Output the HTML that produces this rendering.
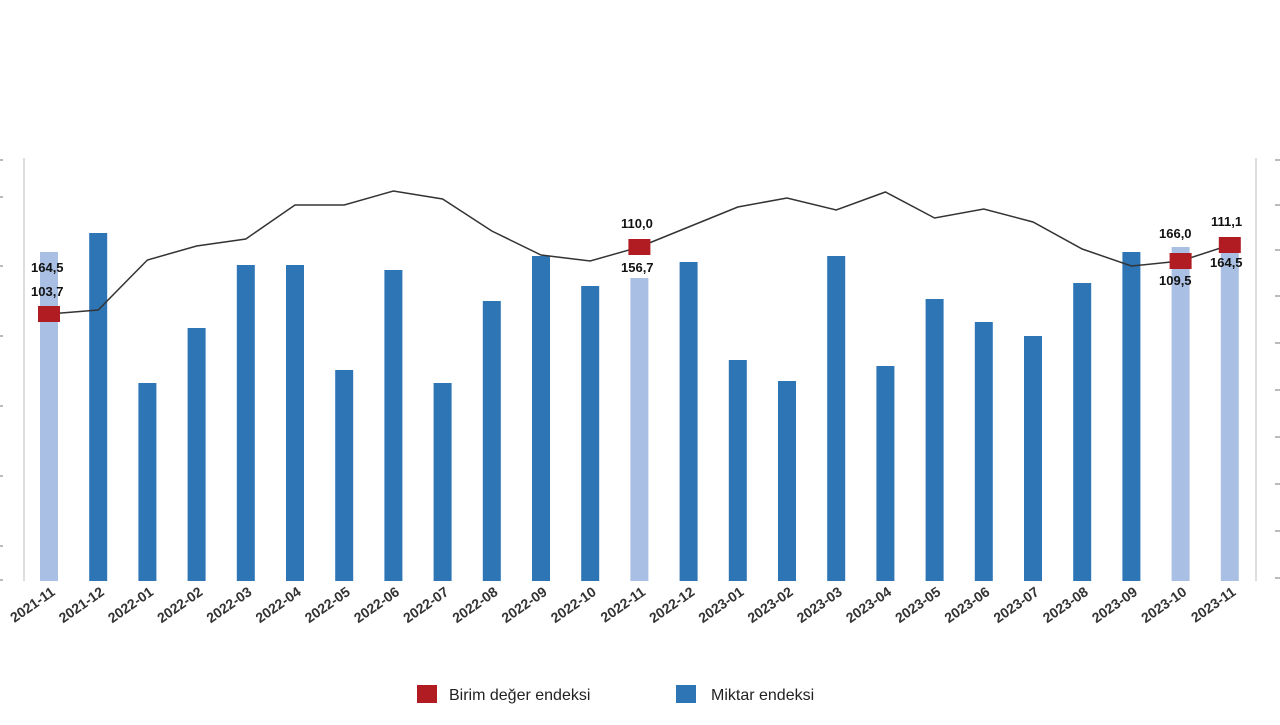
<!DOCTYPE html>
<html><head><meta charset="utf-8"><style>
body{margin:0;background:#fff;width:1280px;height:720px;overflow:hidden}
svg text{font-family:"Liberation Sans",sans-serif}
</style></head><body>
<svg width="1280" height="720" xmlns="http://www.w3.org/2000/svg">
<line x1="24" y1="158" x2="24" y2="581" stroke="#ddd" stroke-width="2"/>
<line x1="1256" y1="158" x2="1256" y2="581" stroke="#ddd" stroke-width="2"/>
<g stroke="#bbb" stroke-width="2">
<line x1="0" y1="160" x2="3" y2="160"/><line x1="0" y1="197" x2="3" y2="197"/><line x1="0" y1="266" x2="3" y2="266"/><line x1="0" y1="336" x2="3" y2="336"/><line x1="0" y1="406" x2="3" y2="406"/><line x1="0" y1="476" x2="3" y2="476"/><line x1="0" y1="546" x2="3" y2="546"/><line x1="0" y1="580" x2="3" y2="580"/>
<line x1="1275" y1="160" x2="1280" y2="160"/><line x1="1275" y1="205" x2="1280" y2="205"/><line x1="1275" y1="250" x2="1280" y2="250"/><line x1="1275" y1="296" x2="1280" y2="296"/><line x1="1275" y1="343" x2="1280" y2="343"/><line x1="1275" y1="390" x2="1280" y2="390"/><line x1="1275" y1="437" x2="1280" y2="437"/><line x1="1275" y1="484" x2="1280" y2="484"/><line x1="1275" y1="531" x2="1280" y2="531"/><line x1="1275" y1="578" x2="1280" y2="578"/>
</g>
<g id="bars"></g>
<polyline id="ln" fill="none" stroke="#333" stroke-width="1.5"/>
<g id="mk"></g>
<g id="lab" font-size="14" fill="#333" font-weight="bold"></g>
<g font-size="13" font-weight="bold" fill="#111">
<text x="31" y="272">164,5</text><text x="31" y="296">103,7</text>
<text x="621" y="228">110,0</text><text x="621" y="272">156,7</text>
<text x="1159" y="238">166,0</text><text x="1159" y="285">109,5</text>
<text x="1211" y="226">111,1</text><text x="1210" y="267">164,5</text>
</g>
<rect x="417" y="685" width="20" height="18" fill="#b01c22"/>
<text x="449" y="700" font-size="16" fill="#222">Birim değer endeksi</text>
<rect x="676" y="685" width="20" height="18" fill="#2e75b6"/>
<text x="711" y="700" font-size="16" fill="#222">Miktar endeksi</text>
</svg>
<script>
const tops=[252,233,383,328,265,265,370,270,383,301,256,286,278,262,360,381,256,366,299,322,336,283,252,247,248];
const ly=[314,310,260,246,239,205,205,191,199,231,255,261,247,227,207,198,210,192,218,209,222,249,266,261,245];
const light=[0,12,23,24];
const labs=["2021-11","2021-12","2022-01","2022-02","2022-03","2022-04","2022-05","2022-06","2022-07","2022-08","2022-09","2022-10","2022-11","2022-12","2023-01","2023-02","2023-03","2023-04","2023-05","2023-06","2023-07","2023-08","2023-09","2023-10","2023-11"];
const ns="http://www.w3.org/2000/svg";
let b=document.getElementById('bars'),m=document.getElementById('mk'),l=document.getElementById('lab'),pts=[];
tops.forEach((t,i)=>{const x=49+i*49.2;
let r=document.createElementNS(ns,'rect');r.setAttribute('x',x-9);r.setAttribute('y',t);r.setAttribute('width',18);r.setAttribute('height',581-t);
r.setAttribute('fill',light.includes(i)?'#a9bfe3':'#2e75b6');b.appendChild(r);
pts.push(x+','+ly[i]);
if(light.includes(i)){let q=document.createElementNS(ns,'rect');q.setAttribute('x',x-11);q.setAttribute('y',ly[i]-8);q.setAttribute('width',22);q.setAttribute('height',16);q.setAttribute('fill','#b01c22');m.appendChild(q);}
let tx=document.createElementNS(ns,'text');tx.setAttribute('x',x+7);tx.setAttribute('y',594);tx.setAttribute('text-anchor','end');tx.setAttribute('transform','rotate(-35 '+(x+7)+' 594)');tx.textContent=labs[i];l.appendChild(tx);});
document.getElementById('ln').setAttribute('points',pts.join(' '));
</script>
</body></html>
